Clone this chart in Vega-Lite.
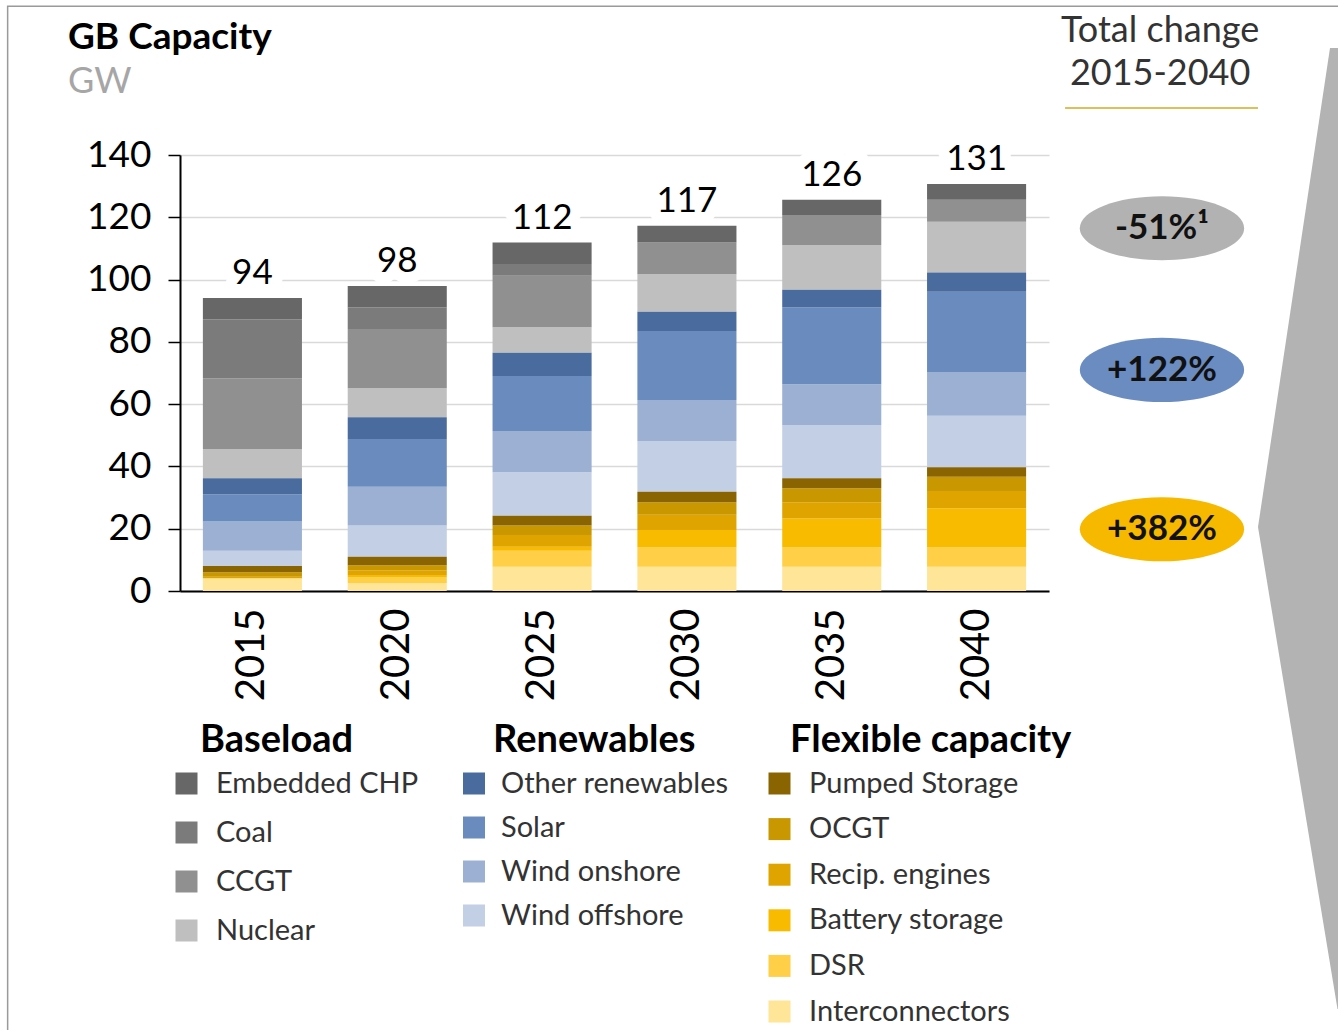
{
  "$schema": "https://vega.github.io/schema/vega-lite/v6.json",
  "width": 869,
  "height": 436,
  "autosize": {"type": "none"},
  "padding": {"left": 180, "top": 155, "right": 289, "bottom": 439},
  "background": "white",
  "config": {
    "font": "Lato",
    "view": {"stroke": null},
    "legend": {"padding": 0, "symbolType": "square", "symbolSize": 484, "symbolStrokeWidth": 0, "symbolOpacity": 1, "labelFont": "Lato", "labelFontSize": 29, "labelColor": "#333333", "labelLimit": 500, "titleFont": "Lato", "titleFontSize": 38, "titleFontWeight": "bold", "titleColor": "#000000", "titleLimit": 600, "titlePadding": 9}
  },
  "title": {
    "text": "GB Capacity",
    "subtitle": "GW",
    "anchor": "start",
    "frame": "group",
    "dx": -112,
    "offset": -96,
    "font": "Lato",
    "fontSize": 37,
    "fontWeight": "bold",
    "color": "#000000",
    "subtitleFont": "Lato",
    "subtitleFontSize": 36,
    "subtitleColor": "#a6a6a6",
    "subtitlePadding": 8
  },
  "data": {
    "values": [
      {"year": "2015", "group": "Flexible capacity", "tech": "Interconnectors", "value": 3.9},
      {"year": "2015", "group": "Flexible capacity", "tech": "DSR", "value": 0.3},
      {"year": "2015", "group": "Flexible capacity", "tech": "Battery storage", "value": 0},
      {"year": "2015", "group": "Flexible capacity", "tech": "Recip. engines", "value": 0.4},
      {"year": "2015", "group": "Flexible capacity", "tech": "OCGT", "value": 1.4},
      {"year": "2015", "group": "Flexible capacity", "tech": "Pumped Storage", "value": 2.0},
      {"year": "2015", "group": "Renewables", "tech": "Wind offshore", "value": 4.9},
      {"year": "2015", "group": "Renewables", "tech": "Wind onshore", "value": 9.4},
      {"year": "2015", "group": "Renewables", "tech": "Solar", "value": 8.8},
      {"year": "2015", "group": "Renewables", "tech": "Other renewables", "value": 5.1},
      {"year": "2015", "group": "Baseload", "tech": "Nuclear", "value": 9.3},
      {"year": "2015", "group": "Baseload", "tech": "CCGT", "value": 22.8},
      {"year": "2015", "group": "Baseload", "tech": "Coal", "value": 18.9},
      {"year": "2015", "group": "Baseload", "tech": "Embedded CHP", "value": 6.9},

      {"year": "2020", "group": "Flexible capacity", "tech": "Interconnectors", "value": 2.5},
      {"year": "2020", "group": "Flexible capacity", "tech": "DSR", "value": 1.8},
      {"year": "2020", "group": "Flexible capacity", "tech": "Battery storage", "value": 0.8},
      {"year": "2020", "group": "Flexible capacity", "tech": "Recip. engines", "value": 1.6},
      {"year": "2020", "group": "Flexible capacity", "tech": "OCGT", "value": 1.6},
      {"year": "2020", "group": "Flexible capacity", "tech": "Pumped Storage", "value": 2.7},
      {"year": "2020", "group": "Renewables", "tech": "Wind offshore", "value": 10.0},
      {"year": "2020", "group": "Renewables", "tech": "Wind onshore", "value": 12.5},
      {"year": "2020", "group": "Renewables", "tech": "Solar", "value": 15.3},
      {"year": "2020", "group": "Renewables", "tech": "Other renewables", "value": 7.0},
      {"year": "2020", "group": "Baseload", "tech": "Nuclear", "value": 9.3},
      {"year": "2020", "group": "Baseload", "tech": "CCGT", "value": 19.0},
      {"year": "2020", "group": "Baseload", "tech": "Coal", "value": 6.9},
      {"year": "2020", "group": "Baseload", "tech": "Embedded CHP", "value": 6.9},

      {"year": "2025", "group": "Flexible capacity", "tech": "Interconnectors", "value": 7.8},
      {"year": "2025", "group": "Flexible capacity", "tech": "DSR", "value": 5.1},
      {"year": "2025", "group": "Flexible capacity", "tech": "Battery storage", "value": 1.3},
      {"year": "2025", "group": "Flexible capacity", "tech": "Recip. engines", "value": 3.8},
      {"year": "2025", "group": "Flexible capacity", "tech": "OCGT", "value": 3.0},
      {"year": "2025", "group": "Flexible capacity", "tech": "Pumped Storage", "value": 3.2},
      {"year": "2025", "group": "Renewables", "tech": "Wind offshore", "value": 13.9},
      {"year": "2025", "group": "Renewables", "tech": "Wind onshore", "value": 13.3},
      {"year": "2025", "group": "Renewables", "tech": "Solar", "value": 17.6},
      {"year": "2025", "group": "Renewables", "tech": "Other renewables", "value": 7.5},
      {"year": "2025", "group": "Baseload", "tech": "Nuclear", "value": 8.2},
      {"year": "2025", "group": "Baseload", "tech": "CCGT", "value": 16.5},
      {"year": "2025", "group": "Baseload", "tech": "Coal", "value": 3.8},
      {"year": "2025", "group": "Baseload", "tech": "Embedded CHP", "value": 6.9},

      {"year": "2030", "group": "Flexible capacity", "tech": "Interconnectors", "value": 7.8},
      {"year": "2030", "group": "Flexible capacity", "tech": "DSR", "value": 6.2},
      {"year": "2030", "group": "Flexible capacity", "tech": "Battery storage", "value": 5.6},
      {"year": "2030", "group": "Flexible capacity", "tech": "Recip. engines", "value": 4.9},
      {"year": "2030", "group": "Flexible capacity", "tech": "OCGT", "value": 4.0},
      {"year": "2030", "group": "Flexible capacity", "tech": "Pumped Storage", "value": 3.4},
      {"year": "2030", "group": "Renewables", "tech": "Wind offshore", "value": 16.3},
      {"year": "2030", "group": "Renewables", "tech": "Wind onshore", "value": 13.1},
      {"year": "2030", "group": "Renewables", "tech": "Solar", "value": 22.2},
      {"year": "2030", "group": "Renewables", "tech": "Other renewables", "value": 6.2},
      {"year": "2030", "group": "Baseload", "tech": "Nuclear", "value": 12.0},
      {"year": "2030", "group": "Baseload", "tech": "CCGT", "value": 10.2},
      {"year": "2030", "group": "Baseload", "tech": "Coal", "value": 0},
      {"year": "2030", "group": "Baseload", "tech": "Embedded CHP", "value": 5.4},

      {"year": "2035", "group": "Flexible capacity", "tech": "Interconnectors", "value": 7.8},
      {"year": "2035", "group": "Flexible capacity", "tech": "DSR", "value": 6.2},
      {"year": "2035", "group": "Flexible capacity", "tech": "Battery storage", "value": 9.3},
      {"year": "2035", "group": "Flexible capacity", "tech": "Recip. engines", "value": 5.2},
      {"year": "2035", "group": "Flexible capacity", "tech": "OCGT", "value": 4.5},
      {"year": "2035", "group": "Flexible capacity", "tech": "Pumped Storage", "value": 3.2},
      {"year": "2035", "group": "Renewables", "tech": "Wind offshore", "value": 17.1},
      {"year": "2035", "group": "Renewables", "tech": "Wind onshore", "value": 13.1},
      {"year": "2035", "group": "Renewables", "tech": "Solar", "value": 24.7},
      {"year": "2035", "group": "Renewables", "tech": "Other renewables", "value": 5.6},
      {"year": "2035", "group": "Baseload", "tech": "Nuclear", "value": 14.4},
      {"year": "2035", "group": "Baseload", "tech": "CCGT", "value": 9.6},
      {"year": "2035", "group": "Baseload", "tech": "Coal", "value": 0},
      {"year": "2035", "group": "Baseload", "tech": "Embedded CHP", "value": 4.9},

      {"year": "2040", "group": "Flexible capacity", "tech": "Interconnectors", "value": 7.8},
      {"year": "2040", "group": "Flexible capacity", "tech": "DSR", "value": 6.2},
      {"year": "2040", "group": "Flexible capacity", "tech": "Battery storage", "value": 12.6},
      {"year": "2040", "group": "Flexible capacity", "tech": "Recip. engines", "value": 5.5},
      {"year": "2040", "group": "Flexible capacity", "tech": "OCGT", "value": 4.6},
      {"year": "2040", "group": "Flexible capacity", "tech": "Pumped Storage", "value": 3.0},
      {"year": "2040", "group": "Renewables", "tech": "Wind offshore", "value": 16.6},
      {"year": "2040", "group": "Renewables", "tech": "Wind onshore", "value": 13.9},
      {"year": "2040", "group": "Renewables", "tech": "Solar", "value": 25.9},
      {"year": "2040", "group": "Renewables", "tech": "Other renewables", "value": 6.2},
      {"year": "2040", "group": "Baseload", "tech": "Nuclear", "value": 16.3},
      {"year": "2040", "group": "Baseload", "tech": "CCGT", "value": 7.0},
      {"year": "2040", "group": "Baseload", "tech": "Coal", "value": 0},
      {"year": "2040", "group": "Baseload", "tech": "Embedded CHP", "value": 5.1}
    ]
  },
  "layer": [
    {
      "data": {"values": [{"frame": "border"}]},
      "mark": {"type": "rect", "fill": null, "stroke": "#9a9a9a", "strokeWidth": 1.5},
      "encoding": {
        "x": {"datum": -1.19, "type": "quantitative", "scale": {"domain": [0, 6], "nice": false, "zero": false}, "axis": null},
        "x2": {"datum": 8.5},
        "y": {"datum": 187.8, "type": "quantitative", "scale": {"domain": [0, 140], "nice": false, "zero": false}, "axis": null},
        "y2": {"datum": -150}
      }
    },
    {
      "data": {"values": [{"shape": "arrow"}]},
      "mark": {"type": "point", "shape": "M0.06,-0.952 L0.3,-0.952 L0.3,0.97 L0.075,0.97 L-0.084,0.006 Z", "size": 1000000, "filled": true, "opacity": 1, "color": "#b3b3b3", "strokeWidth": 0},
      "encoding": {
        "x": {"datum": 7.733, "type": "quantitative", "scale": {"domain": [0, 6], "nice": false, "zero": false}, "axis": null},
        "y": {"datum": 21.5, "type": "quantitative", "scale": {"domain": [0, 140], "nice": false, "zero": false}, "axis": null}
      }
    },
    {
      "transform": [{"stack": "value", "groupby": ["year"], "as": ["v0", "v1"]}],
      "layer": [
        {
          "transform": [{"filter": "datum.group == 'Baseload'"}],
          "mark": {"type": "bar"},
          "encoding": {
            "x": {"field": "year", "type": "nominal", "scale": {"domain": ["2015", "2020", "2025", "2030", "2035", "2040"], "paddingInner": 0.316, "paddingOuter": 0.158},
              "axis": {"title": null, "labelAngle": -90, "labelFont": "Lato", "labelFontSize": 40, "labelColor": "#000000", "labelPadding": 17, "ticks": false, "domain": true, "domainColor": "#000000", "domainWidth": 2, "grid": false}},
            "y": {"field": "v1", "type": "quantitative", "scale": {"domain": [0, 140], "nice": false, "zero": false},
              "axis": {"title": null, "values": [0, 20, 40, 60, 80, 100, 120, 140], "labelFont": "Lato", "labelFontSize": 37, "labelColor": "#000000", "labelPadding": 17, "tickSize": 12, "tickColor": "#000000", "tickWidth": 1.5, "domain": true, "domainColor": "#000000", "domainWidth": 2, "grid": true, "gridColor": "#d9d9d9", "gridWidth": 1.5}},
            "y2": {"field": "v0"},
            "color": {"field": "tech", "type": "nominal",
              "scale": {"domain": ["Embedded CHP", "Coal", "CCGT", "Nuclear"], "range": ["#676767", "#7b7b7b", "#909090", "#bfbfbf"]},
              "legend": {"title": "Baseload", "orient": "none", "legendX": 20, "legendY": 567, "symbolOffset": -28, "labelOffset": 15, "rowPadding": 19}}
          }
        },
        {
          "transform": [{"filter": "datum.group == 'Renewables'"}],
          "mark": {"type": "bar"},
          "encoding": {
            "x": {"field": "year", "type": "nominal"},
            "y": {"field": "v1", "type": "quantitative"},
            "y2": {"field": "v0"},
            "color": {"field": "tech", "type": "nominal",
              "scale": {"domain": ["Other renewables", "Solar", "Wind onshore", "Wind offshore"], "range": ["#4a6b9e", "#6a8bbd", "#9bb0d3", "#c3cfe5"]},
              "legend": {"title": "Renewables", "orient": "none", "legendX": 313, "legendY": 567, "symbolOffset": -33.5, "labelOffset": 12.5, "rowPadding": 14}}
          }
        },
        {
          "transform": [{"filter": "datum.group == 'Flexible capacity'"}],
          "mark": {"type": "bar"},
          "encoding": {
            "x": {"field": "year", "type": "nominal"},
            "y": {"field": "v1", "type": "quantitative"},
            "y2": {"field": "v0"},
            "color": {"field": "tech", "type": "nominal",
              "scale": {"domain": ["Pumped Storage", "OCGT", "Recip. engines", "Battery storage", "DSR", "Interconnectors"], "range": ["#8a6400", "#c99700", "#dfa400", "#f9bb00", "#ffcf47", "#ffe597"]},
              "legend": {"title": "Flexible capacity", "orient": "none", "legendX": 610, "legendY": 567, "symbolOffset": -25, "labelOffset": 15, "rowPadding": 15.6}}
          }
        },
        {
          "transform": [{"aggregate": [{"op": "sum", "field": "value", "as": "total"}], "groupby": ["year"]}],
          "mark": {"type": "text", "font": "Lato", "fontSize": 35, "baseline": "alphabetic", "dy": -14, "color": "white", "stroke": "white", "strokeWidth": 22, "strokeJoin": "round"},
          "encoding": {
            "x": {"field": "year", "type": "nominal"},
            "y": {"field": "total", "type": "quantitative"},
            "text": {"field": "total", "type": "quantitative", "format": ".0f"}
          }
        },
        {
          "transform": [{"aggregate": [{"op": "sum", "field": "value", "as": "total"}], "groupby": ["year"]}],
          "mark": {"type": "text", "font": "Lato", "fontSize": 35, "baseline": "alphabetic", "dy": -14, "color": "#000000"},
          "encoding": {
            "x": {"field": "year", "type": "nominal"},
            "y": {"field": "total", "type": "quantitative"},
            "text": {"field": "total", "type": "quantitative", "format": ".0f"}
          }
        }
      ],
      "resolve": {"scale": {"color": "independent"}}
    },
    {
      "data": {"values": [{"heading": "Total change"}]},
      "mark": {"type": "text", "font": "Lato", "fontSize": 36, "align": "center", "baseline": "alphabetic", "lineHeight": 43, "color": "#333333", "text": ["Total change", "2015-2040"]},
      "encoding": {
        "x": {"datum": 6.767, "type": "quantitative", "scale": {"domain": [0, 6], "nice": false, "zero": false}, "axis": null},
        "y": {"datum": 176.3, "type": "quantitative", "scale": {"domain": [0, 140], "nice": false, "zero": false}, "axis": null}
      }
    },
    {
      "data": {"values": [{"line": "underline"}]},
      "mark": {"type": "rule", "color": "#e0bf5a", "strokeWidth": 2},
      "encoding": {
        "x": {"datum": 6.111, "type": "quantitative", "scale": {"domain": [0, 6], "nice": false, "zero": false}, "axis": null},
        "x2": {"datum": 7.443},
        "y": {"datum": 155.1, "type": "quantitative", "scale": {"domain": [0, 140], "nice": false, "zero": false}, "axis": null}
      }
    },
    {
      "transform": [
        {"stack": "value", "groupby": ["year"], "as": ["v0", "v1"]},
        {"filter": "datum.year == '2040'"},
        {"aggregate": [{"op": "min", "field": "v0", "as": "lo"}, {"op": "max", "field": "v1", "as": "hi"}], "groupby": ["group"]},
        {"calculate": "(datum.lo + datum.hi) / 2", "as": "mid"},
        {"lookup": "group", "from": {"data": {"values": [{"group": "Baseload", "change": "-51%¹"}, {"group": "Renewables", "change": "+122%"}, {"group": "Flexible capacity", "change": "+382%"}]}, "key": "group", "fields": ["change"]}}
      ],
      "layer": [
        {
          "mark": {"type": "point", "shape": "M-1,0 C-1,-0.2154 -0.5523,-0.39 0,-0.39 C0.5523,-0.39 1,-0.2154 1,0 C1,0.2154 0.5523,0.39 0,0.39 C-0.5523,0.39 -1,0.2154 -1,0 Z", "size": 27000, "filled": true, "opacity": 1, "strokeWidth": 0},
          "encoding": {
            "x": {"datum": 6.78, "type": "quantitative", "scale": {"domain": [0, 6], "nice": false, "zero": false}, "axis": null},
            "y": {"field": "mid", "type": "quantitative", "scale": {"domain": [0, 140], "nice": false, "zero": false}, "axis": null},
            "color": {"field": "group", "type": "nominal", "scale": {"domain": ["Baseload", "Renewables", "Flexible capacity"], "range": ["#b2b2b2", "#6a8cc0", "#f7b800"]}, "legend": null}
          }
        },
        {
          "mark": {"type": "text", "font": "Lato", "fontSize": 35, "fontWeight": "bold", "align": "center", "baseline": "middle", "color": "#111111"},
          "encoding": {
            "x": {"datum": 6.78, "type": "quantitative"},
            "y": {"field": "mid", "type": "quantitative"},
            "text": {"field": "change"}
          }
        }
      ]
    }
  ],
  "resolve": {"scale": {"x": "independent", "y": "independent", "color": "independent"}}
}
